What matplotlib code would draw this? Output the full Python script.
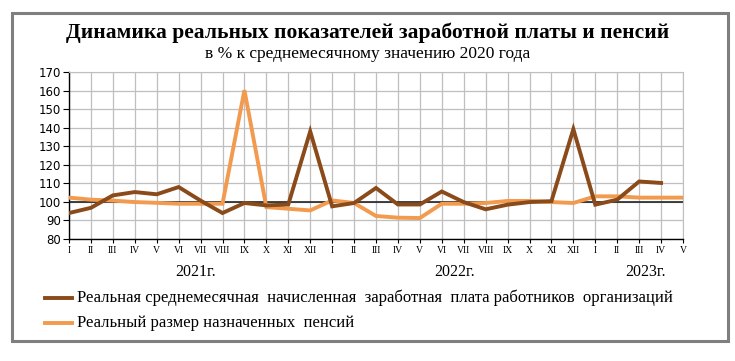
import matplotlib
matplotlib.use("Agg")
import matplotlib.pyplot as plt
from matplotlib.patches import Rectangle

months = ["I", "II", "III", "IV", "V", "VI", "VII", "VIII", "IX", "X", "XI", "XII",
          "I", "II", "III", "IV", "V", "VI", "VII", "VIII", "IX", "X", "XI", "XII",
          "I", "II", "III", "IV", "V"]
years = ["2021г.", "2022г.", "2023г."]
wages = [94.0, 96.8, 103.5, 105.3, 104.1, 108.0, 100.7, 94.0, 99.4,
         98.1, 98.6, 138.0, 97.6, 99.4, 107.5, 98.6, 98.6, 105.6, 99.9,
         96.0, 98.5, 99.9, 100.4, 139.2, 98.5, 101.2, 111.0, 110.2]
pensions = [102.3, 101.2, 100.7, 99.9, 99.5, 99.0, 99.0, 99.0, 160.2,
            97.2, 96.3, 95.4, 100.8, 99.4, 92.4, 91.5, 91.3, 99.0, 99.0,
            99.4, 100.5, 100.5, 99.9, 99.4, 103.0, 103.0, 102.3, 102.3, 102.3]
wage_label = "Реальная среднемесячная  начисленная  заработная  плата работников  организаций"
pension_label = "Реальный размер назначенных  пенсий"
title = "Динамика реальных показателей заработной платы и пенсий"
subtitle = "в % к среднемесячному значению 2020 года"

plt.rcParams['font.family'] = ['Liberation Serif', 'DejaVu Serif']

W, H = 735, 361
fig = plt.figure(figsize=(W / 100, H / 100), dpi=100)
fig.patch.set_facecolor("white")

# outer frame
fig.patches.append(Rectangle((12 / W, 1 - 341 / H), 716 / W, 328 / H,
                             transform=fig.transFigure, fill=False,
                             edgecolor="#7f7f7f", linewidth=2.2))

ax = fig.add_axes([69 / W, 1 - 239 / H, 614 / W, 167 / H])
x = list(range(len(months)))
ax.set_xlim(0, len(months) - 1)
ax.set_ylim(80, 170)
ax.set_yticks(range(80, 171, 10))
ax.set_yticklabels([str(v) for v in range(80, 171, 10)], family="DejaVu Sans", fontsize=8.5)
ax.set_xticks(x)
ax.set_xticklabels(months, fontsize=7)
ax.tick_params(axis='y', length=4, pad=2)
ax.tick_params(axis='x', length=3, pad=2)
ax.grid(True, color="#bfbfbf", linewidth=0.9)
ax.set_axisbelow(True)
for s in ["top", "right"]:
    ax.spines[s].set_color("#bfbfbf")
for s in ["left", "bottom"]:
    ax.spines[s].set_color("black")
    ax.spines[s].set_linewidth(1.0)

ax.axhline(100, color="#222222", linewidth=1.2, zorder=2)
ax.plot(x, pensions, color="#f29a4e", linewidth=2.8, zorder=3, solid_joinstyle="miter")
ax.plot(x[:len(wages)], wages, color="#8a4a19", linewidth=2.8, zorder=4, solid_joinstyle="miter")

# year labels
for xp, yl in zip([5.75, 17.6, 26.27], years):
    ax.text(xp, -0.195, yl, transform=ax.get_xaxis_transform(), ha="center",
            va="center", fontsize=11.5)

fig.text(0.5, 1 - 33 / H, title, ha="center", va="center", fontsize=15.5, fontweight="bold")
fig.text(0.5, 1 - 54 / H, subtitle, ha="center", va="center", fontsize=12.5)

# legend
for yy, col, lab in [(298, "#8a4a19", wage_label), (323, "#f29a4e", pension_label)]:
    fig.add_artist(plt.Line2D([45 / W, 72 / W], [1 - yy / H, 1 - yy / H],
                              color=col, linewidth=2.8, transform=fig.transFigure))
    fig.text(77 / W, 1 - yy / H, lab, ha="left", va="center", fontsize=12)

fig.savefig("out.png", dpi=100)
